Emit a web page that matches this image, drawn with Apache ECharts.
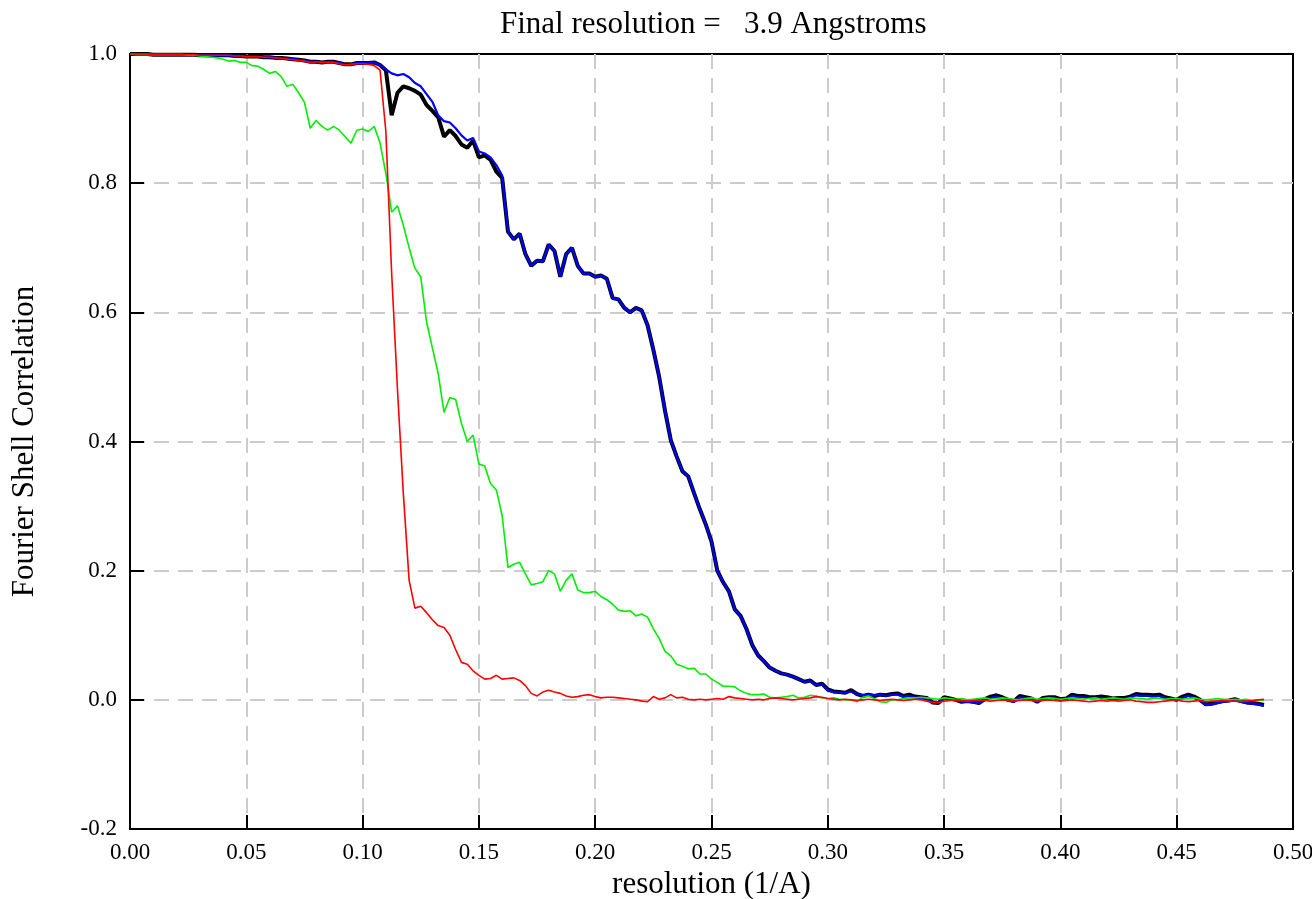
<!DOCTYPE html>
<html>
<head>
<meta charset="utf-8">
<script src="https://cdn.jsdelivr.net/npm/echarts@6/dist/echarts.min.js"></script>
<style>
html,body{margin:0;padding:0;background:#fff;}
#chart{width:1312px;height:899px;}
</style>
</head>
<body>
<div id="chart"></div>
<script>
const resolution = [
0.0000,0.0025,0.0050,0.0075,0.0100,0.0125,0.0150,0.0175,0.0200,0.0225,
0.0250,0.0275,0.0300,0.0325,0.0350,0.0375,0.0400,0.0425,0.0450,0.0475,
0.0500,0.0525,0.0550,0.0575,0.0600,0.0625,0.0650,0.0675,0.0700,0.0725,
0.0750,0.0775,0.0800,0.0825,0.0850,0.0875,0.0900,0.0925,0.0950,0.0975,
0.1000,0.1025,0.1050,0.1075,0.1100,0.1125,0.1150,0.1175,0.1200,0.1225,
0.1250,0.1275,0.1300,0.1325,0.1350,0.1375,0.1400,0.1425,0.1450,0.1475,
0.1500,0.1525,0.1550,0.1575,0.1600,0.1625,0.1650,0.1675,0.1700,0.1725,
0.1750,0.1775,0.1800,0.1825,0.1850,0.1875,0.1900,0.1925,0.1950,0.1975,
0.2000,0.2025,0.2050,0.2075,0.2100,0.2125,0.2150,0.2175,0.2200,0.2225,
0.2250,0.2275,0.2300,0.2325,0.2350,0.2375,0.2400,0.2425,0.2450,0.2475,
0.2500,0.2525,0.2550,0.2575,0.2600,0.2625,0.2650,0.2675,0.2700,0.2725,
0.2750,0.2775,0.2800,0.2825,0.2850,0.2875,0.2900,0.2925,0.2950,0.2975,
0.3000,0.3025,0.3050,0.3075,0.3100,0.3125,0.3150,0.3175,0.3200,0.3225,
0.3250,0.3275,0.3300,0.3325,0.3350,0.3375,0.3400,0.3425,0.3450,0.3475,
0.3500,0.3525,0.3550,0.3575,0.3600,0.3625,0.3650,0.3675,0.3700,0.3725,
0.3750,0.3775,0.3800,0.3825,0.3850,0.3875,0.3900,0.3925,0.3950,0.3975,
0.4000,0.4025,0.4050,0.4075,0.4100,0.4125,0.4150,0.4175,0.4200,0.4225,
0.4250,0.4275,0.4300,0.4325,0.4350,0.4375,0.4400,0.4425,0.4450,0.4475,
0.4500,0.4525,0.4550,0.4575,0.4600,0.4625,0.4650,0.4675,0.4700,0.4725,
0.4750,0.4775,0.4800,0.4825,0.4850,0.4875
];

// black: corrected FSC
const fscCorrected = [
1.000,1.000,1.000,1.000,0.999,0.999,0.999,0.999,0.999,0.999,
0.999,0.999,0.998,0.998,0.998,0.998,0.998,0.998,0.997,0.997,
0.996,0.996,0.996,0.995,0.995,0.994,0.994,0.993,0.992,0.991,
0.990,0.988,0.988,0.987,0.988,0.988,0.986,0.984,0.984,0.986,
0.986,0.986,0.987,0.983,0.975,0.905,0.940,0.950,0.947,0.943,
0.937,0.921,0.912,0.902,0.872,0.882,0.873,0.860,0.855,0.866,
0.840,0.843,0.836,0.818,0.808,0.725,0.713,0.722,0.690,0.672,
0.680,0.679,0.705,0.695,0.655,0.690,0.700,0.672,0.660,0.660,
0.655,0.657,0.652,0.622,0.620,0.607,0.600,0.607,0.603,0.580,
0.542,0.500,0.448,0.402,0.377,0.354,0.346,0.320,0.295,0.272,
0.245,0.200,0.182,0.168,0.140,0.130,0.110,0.085,0.069,0.060,
0.050,0.045,0.041,0.039,0.036,0.032,0.028,0.030,0.023,0.025,
0.016,0.013,0.012,0.011,0.015,0.009,0.006,0.008,0.006,0.008,
0.007,0.009,0.010,0.006,0.008,0.005,0.004,0.003,-0.004,-0.005,
0.004,0.002,0.000,-0.003,-0.002,-0.003,-0.005,0.001,0.005,0.007,
0.004,0.000,-0.002,0.006,0.004,0.002,-0.003,0.003,0.004,0.004,
0.001,0.002,0.008,0.006,0.006,0.004,0.004,0.005,0.004,0.002,
0.003,0.003,0.005,0.009,0.008,0.008,0.007,0.008,0.004,0.002,
0.000,0.005,0.008,0.005,0.000,-0.007,-0.006,-0.004,-0.002,-0.001,
0.001,-0.002,-0.004,-0.005,-0.006,-0.008
];

// blue: masked FSC
const fscMasked = [
1.000,1.000,1.000,1.000,0.999,0.999,0.999,0.999,0.999,0.999,
0.999,0.999,0.998,0.998,0.998,0.998,0.998,0.998,0.997,0.997,
0.996,0.996,0.996,0.995,0.995,0.994,0.994,0.993,0.992,0.991,
0.990,0.988,0.988,0.987,0.988,0.988,0.986,0.984,0.984,0.986,
0.986,0.986,0.987,0.983,0.976,0.970,0.967,0.969,0.964,0.955,
0.950,0.938,0.926,0.905,0.896,0.894,0.885,0.874,0.866,0.870,
0.849,0.846,0.840,0.828,0.812,0.725,0.713,0.722,0.690,0.672,
0.680,0.679,0.705,0.695,0.655,0.690,0.700,0.672,0.660,0.660,
0.655,0.657,0.652,0.622,0.620,0.607,0.600,0.607,0.603,0.580,
0.542,0.500,0.448,0.402,0.377,0.354,0.346,0.320,0.295,0.272,
0.245,0.200,0.182,0.168,0.140,0.130,0.110,0.085,0.069,0.060,
0.050,0.045,0.041,0.039,0.036,0.032,0.028,0.029,0.023,0.024,
0.015,0.012,0.012,0.011,0.013,0.009,0.007,0.008,0.007,0.008,
0.006,0.008,0.008,0.005,0.006,0.004,0.003,0.002,-0.004,-0.005,
0.002,0.001,-0.001,-0.003,-0.003,-0.004,-0.005,0.000,0.003,0.005,
0.002,-0.001,-0.003,0.004,0.003,0.001,-0.003,0.002,0.003,0.003,
0.000,0.001,0.006,0.004,0.004,0.003,0.003,0.003,0.002,0.001,
0.002,0.002,0.004,0.007,0.006,0.006,0.005,0.006,0.003,0.001,
-0.001,0.003,0.006,0.003,-0.001,-0.008,-0.007,-0.005,-0.003,-0.002,
0.000,-0.003,-0.005,-0.006,-0.007,-0.009
];

// green: unmasked FSC
const fscUnmasked = [
1.000,0.999,0.999,0.999,0.999,0.999,0.999,0.999,0.999,0.999,
0.998,0.998,0.997,0.996,0.995,0.994,0.992,0.989,0.990,0.987,
0.987,0.982,0.981,0.976,0.970,0.973,0.965,0.950,0.953,0.940,
0.925,0.885,0.897,0.888,0.882,0.888,0.882,0.872,0.862,0.882,
0.884,0.880,0.888,0.862,0.815,0.755,0.765,0.735,0.700,0.668,
0.655,0.585,0.545,0.505,0.445,0.468,0.465,0.428,0.400,0.410,
0.365,0.362,0.335,0.325,0.285,0.205,0.210,0.213,0.195,0.178,
0.180,0.183,0.200,0.195,0.168,0.185,0.195,0.170,0.166,0.166,
0.168,0.160,0.155,0.148,0.139,0.137,0.138,0.130,0.133,0.128,
0.110,0.095,0.075,0.068,0.055,0.052,0.048,0.049,0.040,0.040,
0.032,0.027,0.021,0.021,0.020,0.014,0.010,0.008,0.008,0.009,
0.004,0.003,0.004,0.005,0.007,0.003,0.004,0.007,0.006,0.003,
0.002,0.003,0.001,0.000,0.000,-0.003,0.004,0.006,0.002,-0.003,
-0.004,0.000,0.000,0.002,0.003,0.003,0.004,0.003,0.002,0.001,
0.003,0.002,0.001,0.002,0.000,0.001,0.002,0.003,0.001,0.002,
0.003,0.002,0.001,0.000,0.002,0.003,0.001,0.002,0.003,0.002,
0.001,0.002,0.003,0.002,0.001,0.002,0.003,0.001,0.002,0.003,
0.002,0.001,0.003,0.002,0.002,0.001,0.003,0.002,0.001,0.002,
0.002,0.001,0.002,0.003,0.001,0.000,0.001,0.002,0.001,0.000,
0.001,0.000,0.001,-0.001,0.000,-0.001
];

// red: phase-randomised masked FSC
const fscPhaseRandomised = [
1.000,1.000,1.000,1.000,0.999,0.999,0.999,0.999,0.999,0.999,
0.999,0.999,0.998,0.998,0.998,0.998,0.998,0.998,0.997,0.997,
0.996,0.996,0.996,0.995,0.995,0.994,0.993,0.992,0.991,0.990,
0.989,0.987,0.988,0.987,0.987,0.987,0.985,0.983,0.984,0.985,
0.985,0.984,0.982,0.975,0.880,0.660,0.480,0.320,0.185,0.142,
0.145,0.135,0.124,0.115,0.112,0.100,0.078,0.058,0.055,0.045,
0.038,0.032,0.033,0.038,0.032,0.033,0.034,0.030,0.022,0.010,
0.006,0.012,0.015,0.012,0.010,0.006,0.004,0.005,0.007,0.008,
0.005,0.003,0.004,0.004,0.003,0.002,0.001,0.000,-0.002,-0.003,
0.005,0.001,0.003,0.008,0.003,0.004,0.001,0.000,0.001,0.000,
0.001,0.002,0.001,0.005,0.003,0.002,0.001,0.000,0.001,0.000,
0.002,0.003,0.002,0.001,0.000,0.001,0.002,0.003,0.005,0.004,
0.002,0.001,0.000,0.001,0.000,-0.001,0.000,0.001,0.000,-0.001,
0.000,0.001,0.000,-0.001,0.000,0.001,0.000,-0.002,-0.004,-0.004,
-0.002,-0.001,0.000,-0.001,-0.002,-0.001,0.000,-0.001,-0.002,-0.001,
0.000,-0.001,-0.002,-0.001,0.000,-0.001,-0.002,-0.001,0.000,-0.001,
-0.002,-0.001,0.000,-0.001,-0.002,-0.003,-0.002,-0.001,-0.002,-0.001,
-0.002,-0.001,0.000,-0.002,-0.003,-0.004,-0.004,-0.003,-0.002,-0.001,
0.000,-0.002,-0.003,-0.002,-0.001,-0.003,-0.002,-0.002,-0.001,-0.002,
-0.002,-0.003,-0.002,-0.001,0.000,0.001
];

const titleText = 'Final resolution =   3.9 Angstroms';
const xName = 'resolution (1/A)';
const yName = 'Fourier Shell Correlation';

const FONT = '"Liberation Serif", "Times New Roman", serif';
function pairs(ys){ return resolution.map((x,i)=>[x, ys[i]]); }

const chart = echarts.init(document.getElementById('chart'), null, {renderer:'canvas'});
const gridDash = {show:true, showMinLine:false, showMaxLine:false,
  lineStyle:{color:'#cccccc', width:2, type:[15,9]}};

chart.setOption({
  animation:false,
  backgroundColor:'#ffffff',
  title:{text:titleText, left:495, top:4,
    textStyle:{fontFamily:FONT, fontSize:31, fontWeight:'normal', color:'#000'}},
  grid:{left:130, right:19, top:54, bottom:70, containLabel:false, outerBoundsMode:'none',
    show:true, borderColor:'#000', borderWidth:2, backgroundColor:'transparent'},
  xAxis:{type:'value', min:0, max:0.5, interval:0.05,
    name:xName, nameLocation:'middle', nameGap:40,
    nameTextStyle:{fontFamily:FONT, fontSize:31, color:'#000'},
    axisLine:{show:true, onZero:false, lineStyle:{color:'#000', width:2}},
    axisTick:{show:true, inside:true, length:14, lineStyle:{color:'#000', width:2}},
    axisLabel:{fontFamily:FONT, fontSize:23, color:'#000', margin:12,
      formatter:v=>(Math.abs(v)<1e-9?0:v).toFixed(2)},
    splitLine:gridDash},
  yAxis:{type:'value', min:-0.2, max:1.0, interval:0.2,
    name:yName, nameLocation:'middle', nameGap:90, nameRotate:90,
    nameTextStyle:{fontFamily:FONT, fontSize:31, color:'#000'},
    axisLine:{show:true, onZero:false, lineStyle:{color:'#000', width:2}},
    axisTick:{show:true, inside:true, length:14, lineStyle:{color:'#000', width:2}},
    axisLabel:{fontFamily:FONT, fontSize:23, color:'#000', margin:13,
      formatter:v=>(Math.abs(v)<1e-9?0:v).toFixed(1)},
    splitLine:gridDash},
  series:[
    {name:'corrected', type:'line', data:pairs(fscCorrected), showSymbol:false, clip:false,
      lineStyle:{color:'#000000', width:4}, z:3},
    {name:'masked', type:'line', data:pairs(fscMasked), showSymbol:false, clip:false,
      lineStyle:{color:'#0000ff', width:2.2}, z:4},
    {name:'unmasked', type:'line', data:pairs(fscUnmasked), showSymbol:false, clip:false,
      lineStyle:{color:'#00ee00', width:1.6}, z:5},
    {name:'phase randomised', type:'line', data:pairs(fscPhaseRandomised), showSymbol:false, clip:false,
      lineStyle:{color:'#ff0000', width:1.6}, z:6}
  ]
});
</script>
</body>
</html>
